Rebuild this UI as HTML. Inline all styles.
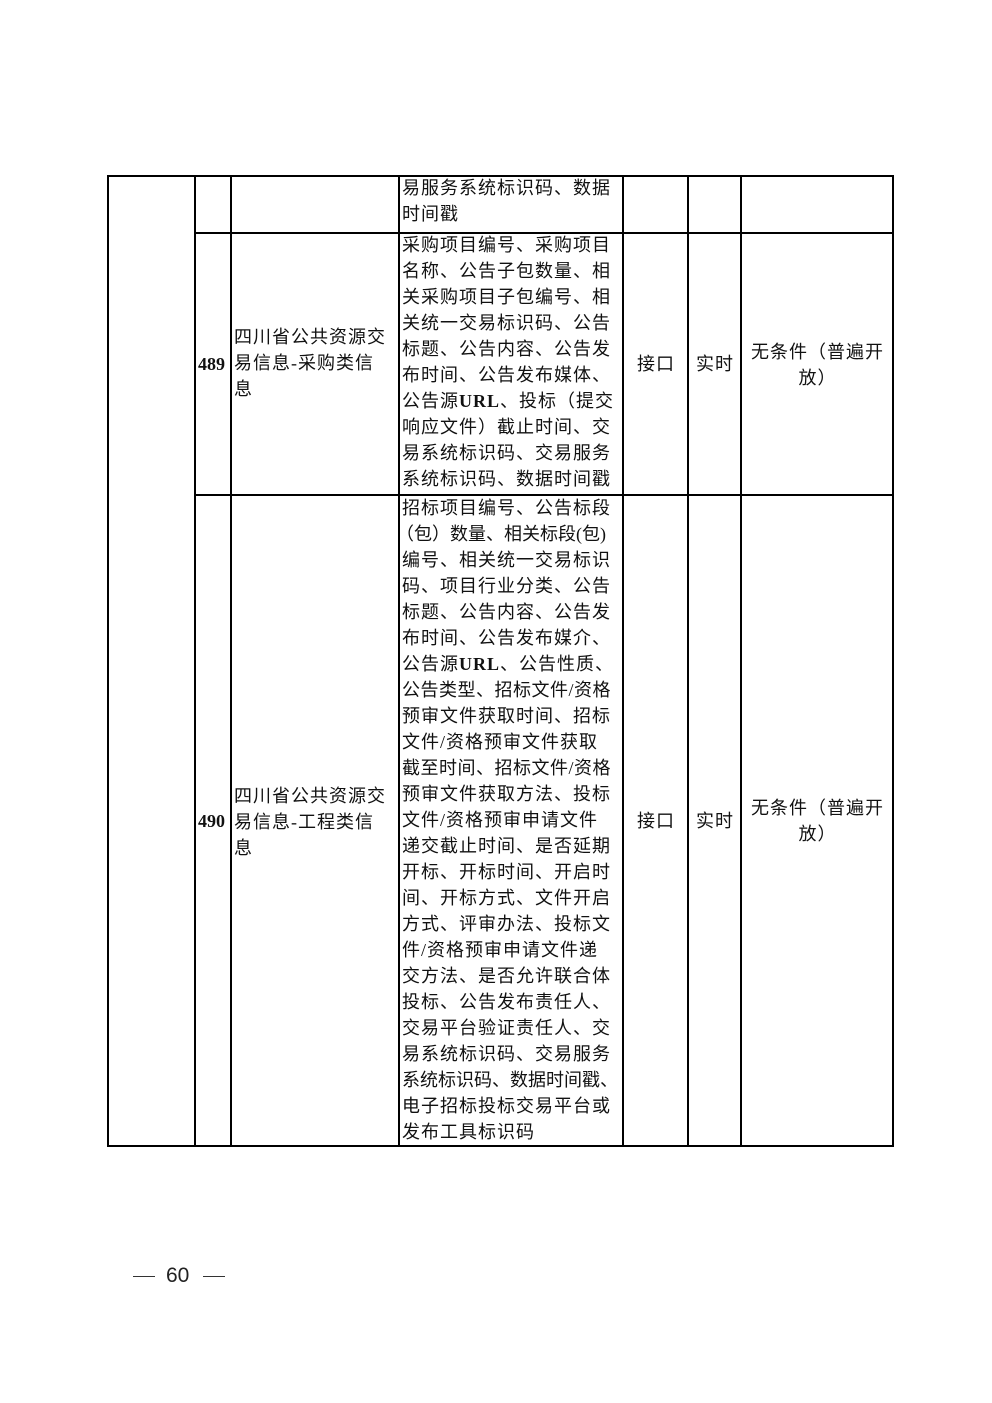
<!DOCTYPE html>
<html><head><meta charset="utf-8"><style>
body{margin:0;width:992px;height:1403px;background:#fff;position:relative;overflow:hidden;font-family:"Liberation Serif","Noto Serif CJK SC","Noto Sans CJK SC",serif;color:#111}
.v{position:absolute;width:2px;background:#000}
.h{position:absolute;height:2px;background:#000}
.t{position:absolute;font-size:18px;line-height:26px;height:26px;white-space:nowrap;font-family:"Liberation Serif","Noto Sans CJK SC",sans-serif;letter-spacing:1px}
.c{text-align:center}
.n{font-family:"Liberation Serif",serif;font-weight:bold;font-size:18px;letter-spacing:0}
.d{position:absolute;top:1276px;height:1px;width:22px;background:#333}
</style></head><body>
<div class="h" style="left:107px;top:175px;width:787px"></div>
<div class="h" style="left:195px;top:232px;width:699px"></div>
<div class="h" style="left:195px;top:494px;width:699px"></div>
<div class="h" style="left:107px;top:1145px;width:787px"></div>
<div class="v" style="left:107px;top:175px;height:972px"></div>
<div class="v" style="left:194px;top:175px;height:972px"></div>
<div class="v" style="left:230px;top:175px;height:972px"></div>
<div class="v" style="left:398px;top:175px;height:972px"></div>
<div class="v" style="left:622px;top:175px;height:972px"></div>
<div class="v" style="left:687px;top:175px;height:972px"></div>
<div class="v" style="left:740px;top:175px;height:972px"></div>
<div class="v" style="left:892px;top:175px;height:972px"></div>

<div class="t" style="left:402px;top:175px">易服务系统标识码、数据</div>
<div class="t" style="left:402px;top:201px">时间戳</div>

<div class="t" style="left:402px;top:232px">采购项目编号、采购项目</div>
<div class="t" style="left:402px;top:258px">名称、公告子包数量、相</div>
<div class="t" style="left:402px;top:284px">关采购项目子包编号、相</div>
<div class="t" style="left:402px;top:310px">关统一交易标识码、公告</div>
<div class="t" style="left:402px;top:336px">标题、公告内容、公告发</div>
<div class="t" style="left:402px;top:362px">布时间、公告发布媒体、</div>
<div class="t" style="left:402px;top:388px">公告源<b style="font-family:'Liberation Serif'">URL</b>、投标（提交</div>
<div class="t" style="left:402px;top:414px">响应文件）截止时间、交</div>
<div class="t" style="left:402px;top:440px">易系统标识码、交易服务</div>
<div class="t" style="left:402px;top:466px">系统标识码、数据时间戳</div>

<div class="t n" style="left:198px;top:351px">489</div>
<div class="t" style="left:234px;top:324px">四川省公共资源交</div>
<div class="t" style="left:234px;top:350px">易信息-采购类信</div>
<div class="t" style="left:234px;top:376px">息</div>
<div class="t c" style="left:624px;width:64px;top:351px">接口</div>
<div class="t c" style="left:689px;width:52px;top:351px">实时</div>
<div class="t c" style="left:742px;width:151px;top:339px">无条件（普遍开</div>
<div class="t c" style="left:742px;width:151px;top:365px">放）</div>

<div class="t" style="left:402px;top:495px">招标项目编号、公告标段</div>
<div class="t" style="left:396px;top:521px;letter-spacing:0">（包）数量、相关标段(包)</div>
<div class="t" style="left:402px;top:547px">编号、相关统一交易标识</div>
<div class="t" style="left:402px;top:573px">码、项目行业分类、公告</div>
<div class="t" style="left:402px;top:599px">标题、公告内容、公告发</div>
<div class="t" style="left:402px;top:625px">布时间、公告发布媒介、</div>
<div class="t" style="left:402px;top:651px">公告源<b style="font-family:'Liberation Serif'">URL</b>、公告性质、</div>
<div class="t" style="left:402px;top:677px;letter-spacing:0.5px">公告类型、招标文件/资格</div>
<div class="t" style="left:402px;top:703px">预审文件获取时间、招标</div>
<div class="t" style="left:402px;top:729px">文件/资格预审文件获取</div>
<div class="t" style="left:402px;top:755px;letter-spacing:0.5px">截至时间、招标文件/资格</div>
<div class="t" style="left:402px;top:781px">预审文件获取方法、投标</div>
<div class="t" style="left:402px;top:807px">文件/资格预审申请文件</div>
<div class="t" style="left:402px;top:833px">递交截止时间、是否延期</div>
<div class="t" style="left:402px;top:859px">开标、开标时间、开启时</div>
<div class="t" style="left:402px;top:885px">间、开标方式、文件开启</div>
<div class="t" style="left:402px;top:911px">方式、评审办法、投标文</div>
<div class="t" style="left:402px;top:937px">件/资格预审申请文件递</div>
<div class="t" style="left:402px;top:963px">交方法、是否允许联合体</div>
<div class="t" style="left:402px;top:989px">投标、公告发布责任人、</div>
<div class="t" style="left:402px;top:1015px">交易平台验证责任人、交</div>
<div class="t" style="left:402px;top:1041px">易系统标识码、交易服务</div>
<div class="t" style="left:402px;top:1067px;letter-spacing:0">系统标识码、数据时间戳、</div>
<div class="t" style="left:402px;top:1093px">电子招标投标交易平台或</div>
<div class="t" style="left:402px;top:1119px">发布工具标识码</div>

<div class="t n" style="left:198px;top:808px">490</div>
<div class="t" style="left:234px;top:783px">四川省公共资源交</div>
<div class="t" style="left:234px;top:809px">易信息-工程类信</div>
<div class="t" style="left:234px;top:835px">息</div>
<div class="t c" style="left:624px;width:64px;top:808px">接口</div>
<div class="t c" style="left:689px;width:52px;top:808px">实时</div>
<div class="t c" style="left:742px;width:151px;top:795px">无条件（普遍开</div>
<div class="t c" style="left:742px;width:151px;top:821px">放）</div>

<div class="d" style="left:133px"></div>
<div style="position:absolute;left:166px;top:1263px;font-size:21px;line-height:26px;font-family:'Liberation Sans',sans-serif;color:#222">60</div>
<div class="d" style="left:203px"></div>
</body></html>
